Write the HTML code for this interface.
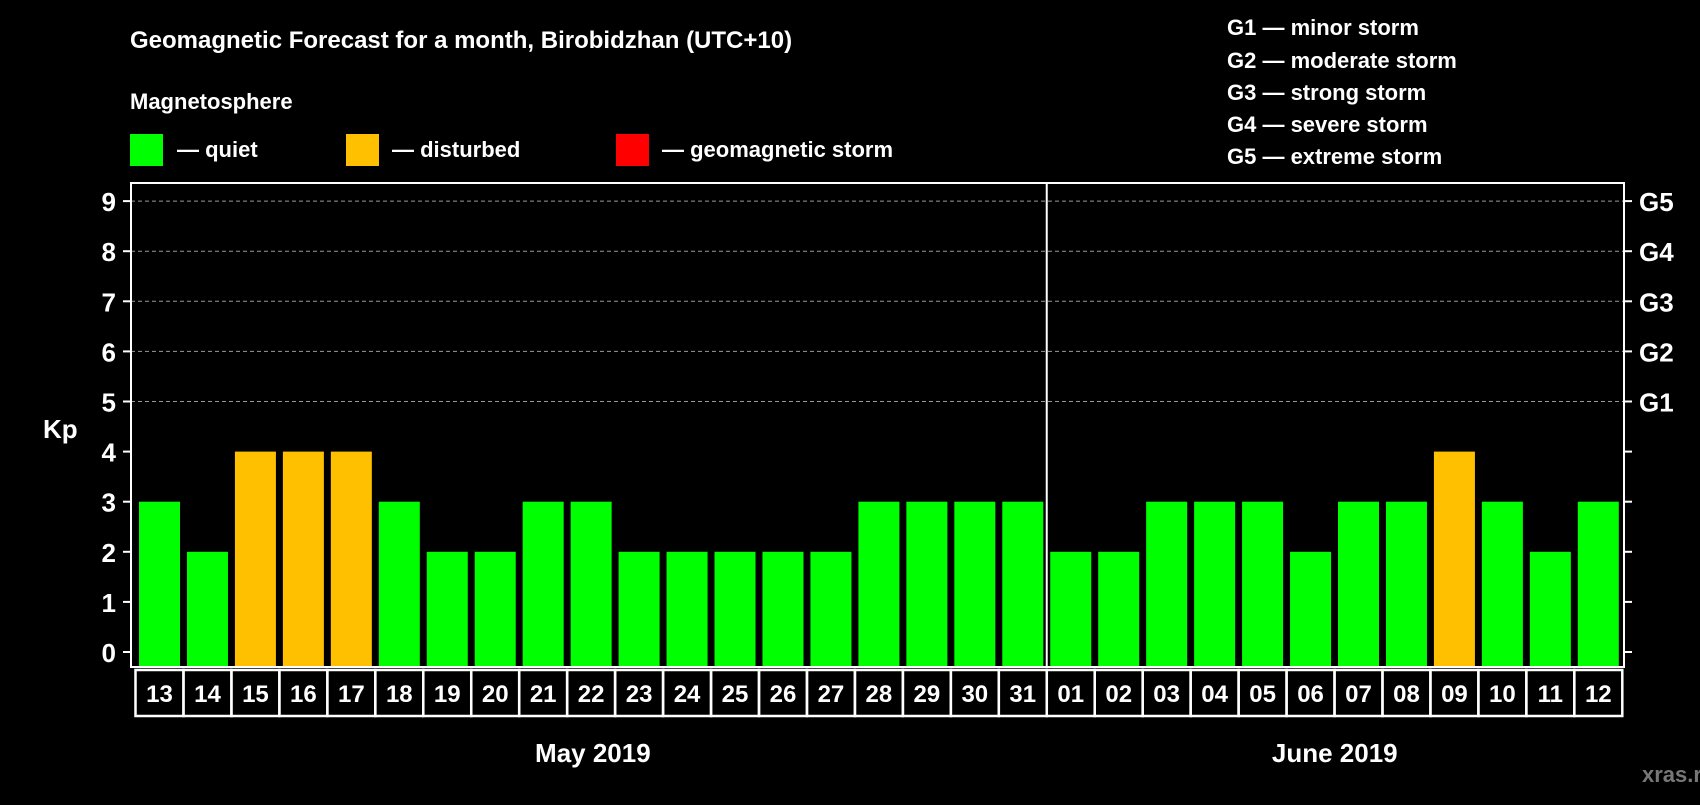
<!DOCTYPE html>
<html><head><meta charset="utf-8"><style>
body{margin:0;background:#000;width:1700px;height:800px;overflow:hidden}
svg text{font-family:"Liberation Sans",Arial,sans-serif;font-weight:bold;fill:#fff}
</style></head><body>
<svg id="chart" width="1700" height="800" xmlns="http://www.w3.org/2000/svg">
<rect width="1700" height="800" fill="#000"/>
<text x="130" y="48" font-size="24">Geomagnetic Forecast for a month, Birobidzhan (UTC+10)</text>
<text x="130" y="109" font-size="22">Magnetosphere</text>
<rect x="130" y="134" width="33" height="32" fill="#00ff00"/>
<text x="177" y="157" font-size="22">— quiet</text>
<rect x="346" y="134" width="33" height="32" fill="#ffc000"/>
<text x="392" y="157" font-size="22">— disturbed</text>
<rect x="616" y="134" width="33" height="32" fill="#ff0000"/>
<text x="662" y="157" font-size="22">— geomagnetic storm</text>
<g font-size="22">
<text x="1227" y="35">G1 — minor storm</text>
<text x="1227" y="68">G2 — moderate storm</text>
<text x="1227" y="100">G3 — strong storm</text>
<text x="1227" y="132">G4 — severe storm</text>
<text x="1227" y="164">G5 — extreme storm</text>
</g>
<text x="43" y="438" font-size="26">Kp</text>
<text x="1642" y="782" font-size="22" style="fill:#777">xras.ru</text>
<g id="plot"></g>
</svg>
<script>
const days=["13","14","15","16","17","18","19","20","21","22","23","24","25","26","27","28","29","30","31","01","02","03","04","05","06","07","08","09","10","11","12"];
const kp=[3,2,4,4,4,3,2,2,3,3,2,2,2,2,2,3,3,3,3,2,2,3,3,3,2,3,3,4,3,2,3];
const yTicks=[0,1,2,3,4,5,6,7,8,9];
const gLabels=["","","","","","G1","G2","G3","G4","G5"];
const months=["May 2019","June 2019"];
const L=131,R=1624,T=183,B=667;
const y=v=>652-v*50.1;
const x=i=>139+i*47.96;
const g=document.getElementById('plot');
const NS="http://www.w3.org/2000/svg";
function mk(t,a){const e=document.createElementNS(NS,t);for(const k in a)e.setAttribute(k,a[k]);g.appendChild(e);return e;}
yTicks.forEach(v=>{
  if(v>=5){const l=mk('line',{x1:L,x2:R,y1:y(v),y2:y(v),stroke:'#999','stroke-dasharray':'4,3','stroke-width':1});
  
  }
  const t1=mk('line',{x1:L-8,x2:L,y1:y(v),y2:y(v),stroke:'#fff','stroke-width':2});
  
  
  const t2=mk('line',{x1:R,x2:R+8,y1:y(v),y2:y(v),stroke:'#fff','stroke-width':2});
  
  
  const tl=mk('text',{x:116,y:y(v)+10,'font-size':26,'text-anchor':'end'});tl.textContent=v;
  
  
  if(gLabels[v]){const gl=mk('text',{x:1639,y:y(v)+10,'font-size':26});gl.textContent=gLabels[v];
  
  }
});
kp.forEach((v,i)=>{
  const b=mk('rect',{x:x(i),y:y(v),width:41,height:B-y(v),fill:v>=5?'#ff0000':(v>=4?'#ffc000':'#00ff00')});
  
  
  const bx=mk('rect',{x:x(i)-3.5,y:670,width:48,height:46,fill:'none',stroke:'#fff','stroke-width':2.5});
  
  
  const t=mk('text',{x:x(i)+20.5,y:702,'font-size':24,'text-anchor':'middle'});t.textContent=days[i];
  
  
});
const fr=mk('rect',{x:L,y:T,width:R-L,height:B-T,fill:'none',stroke:'#fff','stroke-width':2});


const split=days.indexOf("01");
const dx=x(split)-3.5;
const dv=mk('line',{x1:dx,x2:dx,y1:T,y2:B,stroke:'#fff','stroke-width':2});


const m1=mk('text',{x:(x(0)+dx)/2,y:762,'font-size':26,'text-anchor':'middle'});m1.textContent=months[0];


const m2=mk('text',{x:(dx+x(days.length-1)+45)/2,y:762,'font-size':26,'text-anchor':'middle'});m2.textContent=months[1];


</script>
</body></html>
